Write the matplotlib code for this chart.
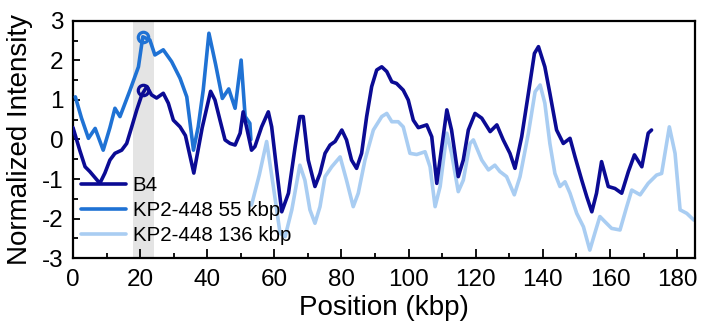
import matplotlib
matplotlib.use("Agg")
import matplotlib.pyplot as plt
from matplotlib.ticker import MultipleLocator

plt.rcParams['font.family'] = ['Liberation Sans', 'DejaVu Sans']
plt.rcParams['axes.unicode_minus'] = False

# ---- data ----
b4_x = [0, 2, 3.6, 5, 8, 9.5, 11, 12.5, 14.5, 16, 17.5, 19, 20.5, 22, 23.4, 24.9, 26.9, 28.4,
        29.9, 31.9, 33.5, 36, 38.5, 41, 42.3, 43.8, 45.3, 46.8, 48.3, 49.8, 50.7, 51.7, 53.2,
        54.2, 56.2, 58.2, 59.2, 60.7, 62.2, 64.2, 66.2, 67.6, 68.6, 70.1, 72.1, 73.6, 75.1,
        76.6, 78.1, 80.1, 81.5, 83, 84.5, 86, 87.5, 89, 90.5, 92, 93.5, 95, 96.4, 98.4, 99.9,
        101.4, 102.9, 105.4, 106.9, 108.4, 109.9, 111.4, 112.8, 114.8, 116.3, 117.8, 119.8,
        121.8, 124.3, 126.3, 128.2, 130.2, 131.7, 133.7, 135.7, 137.5, 138.7, 140.6, 142.1,
        144.1, 146.1, 148.1, 149.6, 151.6, 153.1, 154.6, 156, 157.5, 159.5, 161.5, 163.5,
        165.5, 167.3, 169.5, 171.4, 172.4]
b4_y = [0.3, -0.27, -0.69, -0.81, -1.11, -0.85, -0.52, -0.35, -0.27, -0.1, 0.32, 0.75, 1.13,
        1.34, 1.13, 1.05, 1.17, 0.92, 0.49, 0.32, 0.1, -0.85, 0.3, 1.22, 1.0, 0.49, -0.01,
        -0.1, -0.14, 0.16, 0.7, 0.32, -0.27, -0.18, 0.32, 0.7, 0.32, -0.77, -1.83, -1.36,
        -0.18, 0.58, 0.58, -0.52, -1.19, -0.86, -0.35, -0.14, -0.05, 0.24, -0.01, -0.52,
        -0.73, -0.35, 0.58, 1.34, 1.76, 1.84, 1.72, 1.46, 1.42, 1.25, 1.0, 0.49, 0.3, 0.37,
        0.07, -1.11, -0.18, 0.75, 0.24, -0.94, -0.52, 0.24, 0.66, 0.54, 0.2, 0.37, -0.01,
        -0.35, -0.73, 0.07, 1.17, 2.18, 2.35, 1.84, 1.17, 0.24, -0.1, 0.03, -0.44, -1.03,
        -1.45, -1.83, -1.36, -0.56, -1.19, -1.24, -1.36, -0.81, -0.39, -0.69, 0.16, 0.24]

k55_x = [0.7, 2.5, 4.6, 6.6, 9.0, 11, 12.5, 14, 17, 19.5, 20.8, 22.9, 24.4, 26.9, 29.4, 31.9,
         33.9, 35.9, 37.3, 38.8, 40.5, 42.5, 44.5, 46.4, 48.3, 50.1, 51.3, 52.7, 53]
k55_y = [1.08, 0.55, 0.03, 0.28, -0.27, 0.3, 0.79, 0.58, 1.25, 1.84, 2.6, 2.52, 2.14, 2.27,
         1.97, 1.55, 1.08, -0.27, 0.32, 1.25, 2.69, 1.9, 1.04, 1.28, 0.79, 2.01, 0.58, 0.41,
         0.0]

k136_x = [53.2, 55.5, 57.7, 59.7, 61.7, 63.2, 65.2, 67.6, 69.1, 70.6, 72.1, 73.6, 75.1, 77.1,
          79.6, 81.5, 83.5, 85, 87, 89.5, 92, 93.5, 95, 96.9, 98.4, 100.4, 102.4, 104.9,
          106.4, 107.9, 109.4, 111.4, 112.8, 114.8, 116.3, 118.3, 119.3, 121.8, 123.8, 125.7,
          127.2, 129.2, 131.5, 133.2, 135.7, 137.7, 139.2, 140.6, 142.1, 143.6, 145.1, 146.6,
          148.1, 150.1, 152.1, 154, 155.5, 157, 158.5, 160.5, 163, 165, 166.5, 169, 171.4,
          173.9, 175.4, 177.7, 179.4, 180.9, 182.9, 185]
k136_y = [-1.66, -0.9, -0.05, -1.19, -2.37, -2.46, -1.78, -0.65, -1.03, -1.78, -2.12, -1.7,
          -0.94, -0.69, -0.44, -1.03, -1.7, -1.36, -0.52, 0.24, 0.58, 0.66, 0.45, 0.45, 0.32,
          -0.35, -0.38, -0.31, -0.69, -1.7, -1.19, 0.16, -0.35, -1.32, -1.03, -0.1, -0.01,
          -0.52, -0.77, -0.65, -0.81, -0.94, -1.4, -0.94, 0.16, 1.21, 1.38, 0.92, -0.1, -0.86,
          -1.19, -1.07, -1.36, -1.87, -2.21, -2.8, -2.37, -1.95, -2.08, -2.25, -2.29, -1.7,
          -1.28, -1.4, -1.11, -0.9, -0.86, 0.32, -0.35, -1.78, -1.87, -2.04]

marker_x = [20.8, 20.8]
marker_y = [2.6, 1.25]
shade_range = (18, 24)

labels = ["B4", "KP2-448 55 kbp", "KP2-448 136 kbp"]
colors = ["#0b0b94", "#1f72d4", "#a9cdf2"]

# ---- figure ----
fig = plt.figure(figsize=(7.04, 3.31), dpi=100)
ax = fig.add_axes([0.1037, 0.2205, 0.8833, 0.7161])

ax.axvspan(*shade_range, color="#e4e4e4", lw=0, zorder=0)

lw = 2.6
ax.plot(b4_x, b4_y, color=colors[0], lw=lw, label=labels[0], zorder=4,
        solid_joinstyle='round', solid_capstyle='round')
ax.plot(k55_x, k55_y, color=colors[1], lw=lw, label=labels[1], zorder=3,
        solid_joinstyle='round', solid_capstyle='round')
ax.plot(k136_x, k136_y, color=colors[2], lw=lw, label=labels[2], zorder=2,
        solid_joinstyle='round', solid_capstyle='round')

ax.plot(marker_x[0], marker_y[0], 'o', ms=7.5, mfc='none', mec=colors[1], mew=2.3, zorder=5)
ax.plot(marker_x[1], marker_y[1], 'o', ms=7.5, mfc='none', mec=colors[0], mew=2.3, zorder=5)

ax.set_xlim(0, 185.3)
ax.set_ylim(-3, 3)
ax.xaxis.set_major_locator(MultipleLocator(20))
ax.xaxis.set_minor_locator(MultipleLocator(10))
ax.yaxis.set_major_locator(MultipleLocator(1))
ax.yaxis.set_minor_locator(MultipleLocator(0.5))
ax.tick_params(which='both', direction='in', top=False, right=False, labelsize=17.5, width=1.3)
ax.tick_params(axis='x', which='major', length=6.5, pad=8)
ax.tick_params(axis='y', which='major', length=5, pad=7)
ax.tick_params(which='minor', length=3.5)
for s in ax.spines.values():
    s.set_linewidth(1.6)

ax.set_xlabel("Position (kbp)", fontsize=20, labelpad=3)
ax.set_ylabel("Normalized Intensity", fontsize=20, labelpad=6)

leg = ax.legend(loc='lower left', frameon=False, fontsize=14.8, handlelength=2.2,
                handletextpad=0.3, labelspacing=0.3, borderaxespad=0.0,
                bbox_to_anchor=(0.0, 0.02))

fig.savefig("out.png", dpi=100)
